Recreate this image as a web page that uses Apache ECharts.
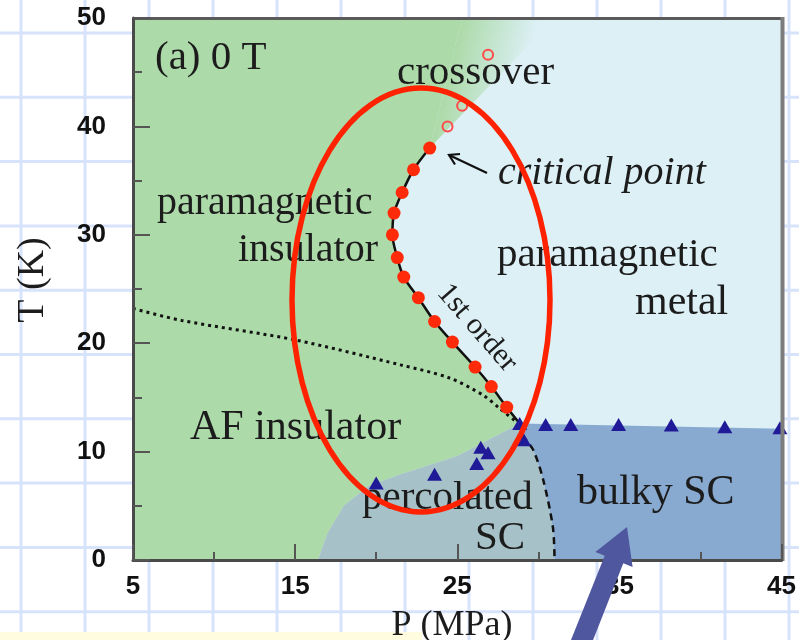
<!DOCTYPE html>
<html>
<head>
<meta charset="utf-8">
<script src="https://cdn.jsdelivr.net/npm/echarts@6/dist/echarts.min.js"></script>
<style>
  html, body { margin: 0; padding: 0; background: #ffffff; }
  #chart { width: 799px; height: 640px; }
</style>
</head>
<body>
<div id="chart"></div>
<script>
// ---- Phase diagram data, P in MPa, T in K ----

// First-order metal–insulator transition (filled red circles)
const firstOrderP = [23.3, 22.3, 21.6, 21.1, 21.0, 21.3, 21.7, 22.6, 23.6, 24.7, 26.1, 27.1, 28.05];
const firstOrderT = [38.0, 36.0, 33.9, 32.0, 30.0, 27.9, 26.1, 24.2, 22.0, 20.1, 17.8, 16.0, 14.1];

// Crossover above the critical point (open red circles)
const crossoverP = [24.4, 25.3, 26.9];
const crossoverT = [40.0, 41.9, 46.6];

// Superconducting onset (blue triangles)
const scOnsetP = [20.0, 23.6, 26.2, 26.45, 26.9, 28.85, 29.1, 30.45, 32.0, 34.95, 38.2, 41.5, 44.9];
const scOnsetT = [7.1, 7.9, 8.9, 10.4, 9.9, 12.6, 11.1, 12.5, 12.5, 12.5, 12.45, 12.3, 12.2];

// Antiferromagnetic boundary (dotted)
const afLineP = [5, 8, 15, 21.5, 24.5, 26.6, 27.6, 28.6];
const afLineT = [23.2, 22.1, 20.3, 18.0, 16.8, 15.2, 14.0, 12.8];

// Bulk superconductivity boundary (dashed)
const bulkScLineP = [28.85, 29.1, 29.7, 30.3, 30.9, 31.0];
const bulkScLineT = [12.6, 11.4, 10.1, 7.4, 3.0, 0];

// Where the first-order line ends
const triplePoint = [28.85, 12.6];

// Upper edge of the percolated SC region
const percEdgeP = [28.85, 25.0, 21.5, 19.5, 18.0, 17.0, 16.4];
const percEdgeT = [12.6, 9.6, 7.9, 6.8, 5.0, 2.5, 0];

// Upper edge of the bulky SC region
const bulkTopP = [28.85, 45];
const bulkTopT = [12.6, 12.1];

// Crossover band at the top edge: where the insulator colour starts fading, where it is gone
const crossoverTopP = [25.3, 31.0];

// Axis ranges and ticks
const pRange = [5, 45];
const tRange = [0, 50];
const pStep = 10;
const tStep = 10;

const zip = (a, b) => a.map((v, i) => [v, b[i]]);

const COLORS = {
  metal: '#dcf0f6',
  insulator: '#acdaa8',
  percolated: '#a6c2c8',
  bulky: '#88aad0'
};

const SERIF = '"Liberation Serif", "Times New Roman", serif';
const SANS = '"Liberation Sans", Arial, sans-serif';

function renderRegions(params, api) {
  const c = p => api.coord(p);
  const poly = (pts, fill) => ({
    type: 'polygon',
    shape: { points: pts.map(c) },
    style: { fill: fill }
  });
  const firstOrder = zip(firstOrderP, firstOrderT);
  const percEdge = zip(percEdgeP, percEdgeT);
  const bulkLine = zip(bulkScLineP, bulkScLineT);
  const bulkTop = zip(bulkTopP, bulkTopT);
  const crit = firstOrder[0];

  const metal = [[pRange[0], tRange[0]], [pRange[0], tRange[1]], [pRange[1], tRange[1]], [pRange[1], tRange[0]]];
  const insulator = [[pRange[0], tRange[0]], [pRange[0], tRange[1]], [crossoverTopP[0], tRange[1]]]
    .concat(firstOrder, [triplePoint], percEdge.slice(1));
  const fade = [crit, [crossoverTopP[0], tRange[1]], [crossoverTopP[1], tRange[1]]];
  const percolated = percEdge.concat(bulkLine.slice().reverse());
  const bulky = bulkTop.concat([[pRange[1], tRange[0]]], bulkLine.slice().reverse());

  // gradient across the crossover band, perpendicular to its inner edge
  const a = c(crit), b = c([crossoverTopP[0], tRange[1]]);
  const dx = b[0] - a[0], dy = b[1] - a[1];
  const len = Math.hypot(dx, dy);
  const nx = -dy / len, ny = dx / len; // pointing to higher pressure
  const mx = (a[0] + b[0]) / 2, my = (a[1] + b[1]) / 2;
  const grad = new echarts.graphic.LinearGradient(
    mx, my, mx + nx * 75, my + ny * 75,
    [{ offset: 0, color: COLORS.insulator }, { offset: 1, color: COLORS.metal }],
    true
  );

  return {
    type: 'group',
    children: [
      poly(metal, COLORS.metal),
      poly(insulator, COLORS.insulator),
      { type: 'polygon', shape: { points: fade.map(c) }, style: { fill: grad } },
      poly(percolated, COLORS.percolated),
      poly(bulky, COLORS.bulky)
    ]
  };
}

// Decorative squared paper behind the panel
const paper = [];
for (let x = 21; x < 799; x += 64) {
  paper.push({ type: 'line', z: -10, silent: true, shape: { x1: x, y1: 0, x2: x, y2: 640 }, style: { stroke: '#d7e3fb', lineWidth: 3 } });
}
for (let y = 33; y < 640; y += 64.3) {
  paper.push({ type: 'line', z: -10, silent: true, shape: { x1: 0, y1: y, x2: 799, y2: y }, style: { stroke: '#d7e3fb', lineWidth: 3 } });
}
paper.push({ type: 'rect', z: -9, silent: true, shape: { x: 0, y: 632, width: 422, height: 8 }, style: { fill: '#fffce0' } });

function label(text, x, y, size, extra) {
  return Object.assign({
    type: 'text', z: 50, silent: true, x: x, y: y,
    style: Object.assign({ text: text, font: size + 'px ' + SERIF, fill: '#1c1c1c', align: 'left', verticalAlign: 'middle' }, (extra && extra.style) || {})
  }, extra ? { rotation: extra.rotation || 0 } : {});
}

const overlays = [
  label('(a) 0 T', 155, 58, 41),
  label('crossover', 397, 73, 41),
  label('critical point', 498, 173, 40, { style: { font: 'italic 40px ' + SERIF } }),
  label('paramagnetic', 157, 203, 40),
  label('insulator', 238, 250, 40),
  label('paramagnetic', 497, 255, 41),
  label('metal', 635, 303, 42),
  label('AF insulator', 190, 428, 42),
  label('percolated', 362, 498, 41),
  label('SC', 475, 538, 41),
  label('bulky SC', 577, 493, 42),
  label('1st order', 477, 328, 30, { rotation: -49 * Math.PI / 180, style: { align: 'center' } }),
  // axis titles
  label('T (K)', 33, 280, 38, { rotation: Math.PI / 2, style: { align: 'center' } }),
  label('P (MPa)', 452, 626, 36, { style: { align: 'center' } }),
  // pointer to the critical point
  { type: 'polyline', z: 50, silent: true, shape: { points: [[487, 173], [449, 155]] }, style: { stroke: '#111', lineWidth: 2.2, fill: null } },
  { type: 'polyline', z: 50, silent: true, shape: { points: [[460, 154], [449, 155], [455, 164.5]] }, style: { stroke: '#111', lineWidth: 2.2, fill: null } },
  // highlight ring around the first-order line
  { type: 'ellipse', z: 60, silent: true, shape: { cx: 421, cy: 300, rx: 129, ry: 212 }, style: { stroke: '#ff2200', lineWidth: 5.5, fill: null } },
  // pointer to the bulky SC region
  { type: 'polygon', z: 60, silent: true,
    shape: { points: [[567, 650], [604.7, 555.8], [595.4, 552], [627, 527], [632.6, 567], [623.3, 563.2], [586, 658]] },
    style: { fill: '#4f579f' } },
  // panel frame: top and right edges
  { type: 'line', z: 40, silent: true, shape: { x1: 133, y1: 18.5, x2: 783, y2: 18.5 }, style: { stroke: '#5a5a5a', lineWidth: 3 } },
  { type: 'line', z: 40, silent: true, shape: { x1: 782.5, y1: 17, x2: 782.5, y2: 561 }, style: { stroke: '#7c7c7c', lineWidth: 4 } }
];

const axisCommon = {
  axisLine: { show: true, onZero: false, lineStyle: { color: '#4a4a4a', width: 3 } },
  axisTick: { show: true, inside: true, length: 17, lineStyle: { color: '#555', width: 2 } },
  minorTick: { show: true, splitNumber: 2, length: 9, lineStyle: { color: '#555', width: 2 } },
  splitLine: { show: false },
  axisLabel: { color: '#111', fontSize: 26, fontWeight: 'bold', fontFamily: SANS }
};

const chart = echarts.init(document.getElementById('chart'), null, { renderer: 'canvas' });
chart.setOption({
  animation: false,
  backgroundColor: 'transparent',
  grid: { left: 133, top: 18, right: 17, bottom: 80 },
  xAxis: Object.assign({}, axisCommon, {
    type: 'value', min: pRange[0], max: pRange[1], interval: pStep, z: 45,
    axisTick: Object.assign({}, axisCommon.axisTick, { length: 16 }),
    minorTick: Object.assign({}, axisCommon.minorTick, { length: 8 }),
    axisLabel: Object.assign({}, axisCommon.axisLabel, { margin: 14 })
  }),
  yAxis: Object.assign({}, axisCommon, {
    type: 'value', min: tRange[0], max: tRange[1], interval: tStep, z: 45,
    axisLabel: Object.assign({}, axisCommon.axisLabel, { margin: 27 })
  }),
  series: [
    { type: 'custom', renderItem: renderRegions, data: [[pRange[0], tRange[0]]], z: 1, silent: true, clip: false },
    {
      type: 'line', data: zip(afLineP, afLineT), smooth: 0.3, symbol: 'none', z: 5, silent: true,
      lineStyle: { color: '#111', width: 3, type: [3, 4] }
    },
    {
      type: 'line', data: zip(bulkScLineP, bulkScLineT), smooth: 0.3, symbol: 'none', z: 5, silent: true,
      lineStyle: { color: '#111', width: 2.5, type: [7, 5] }
    },
    {
      type: 'line', data: zip(firstOrderP, firstOrderT).concat([triplePoint]), smooth: 0.3, symbol: 'none', z: 6, silent: true,
      lineStyle: { color: '#111', width: 2.5 }
    },
    {
      type: 'scatter', data: zip(firstOrderP, firstOrderT), symbol: 'circle', symbolSize: 13, z: 8, silent: true,
      itemStyle: { color: '#ff2a0a', opacity: 1 }
    },
    {
      type: 'scatter', data: zip(crossoverP, crossoverT), symbol: 'circle', symbolSize: 10, z: 8, silent: true,
      itemStyle: { color: 'rgba(0,0,0,0)', borderColor: '#ff4a4a', borderWidth: 2, opacity: 1 }
    },
    {
      type: 'scatter', data: zip(scOnsetP, scOnsetT), symbol: 'triangle', symbolSize: [15, 13], z: 8, silent: true, clip: false,
      itemStyle: { color: '#201a98', opacity: 1 }
    }
  ],
  graphic: { elements: paper.concat(overlays) }
});
</script>
</body>
</html>
